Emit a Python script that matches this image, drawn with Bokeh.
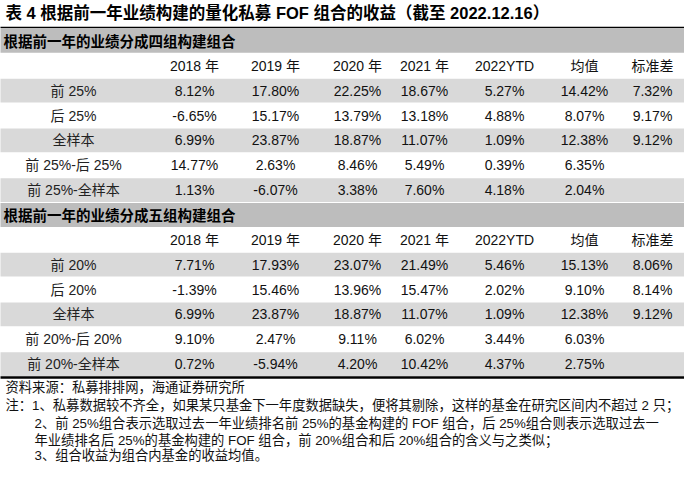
from bokeh.plotting import figure
from bokeh.models import Range1d
from bokeh.core.properties import value
from bokeh.embed import file_html
from bokeh.resources import INLINE

# ---------------- data ----------------
title = "表 4  根据前一年业绩构建的量化私募 FOF 组合的收益（截至 2022.12.16）"
section_titles = ["根据前一年的业绩分成四组构建组合", "根据前一年的业绩分成五组构建组合"]
col_headers = ["2018 年", "2019 年", "2020 年", "2021 年", "2022YTD", "均值", "标准差"]

g4_labels = ["前 25%", "后 25%", "全样本", "前 25%-后 25%", "前 25%-全样本"]
g4_top25 = [8.12, 17.80, 22.25, 18.67, 5.27, 14.42, 7.32]
g4_bot25 = [-6.65, 15.17, 13.79, 13.18, 4.88, 8.07, 9.17]
g4_all = [6.99, 23.87, 18.87, 11.07, 1.09, 12.38, 9.12]
g4_top_minus_bot = [14.77, 2.63, 8.46, 5.49, 0.39, 6.35, None]
g4_top_minus_all = [1.13, -6.07, 3.38, 7.60, 4.18, 2.04, None]

g5_labels = ["前 20%", "后 20%", "全样本", "前 20%-后 20%", "前 20%-全样本"]
g5_top20 = [7.71, 17.93, 23.07, 21.49, 5.46, 15.13, 8.06]
g5_bot20 = [-1.39, 15.46, 13.96, 15.47, 2.02, 9.10, 8.14]
g5_all = [6.99, 23.87, 18.87, 11.07, 1.09, 12.38, 9.12]
g5_top_minus_bot = [9.10, 2.47, 9.11, 6.02, 3.44, 6.03, None]
g5_top_minus_all = [0.72, -5.94, 4.20, 10.42, 4.37, 2.75, None]

notes = [
    "资料来源：私募排排网，海通证券研究所",
    "注：1、私募数据较不齐全，如果某只基金下一年度数据缺失，便将其剔除，这样的基金在研究区间内不超过 2 只；",
    "2、前 25%组合表示选取过去一年业绩排名前 25%的基金构建的 FOF 组合，后 25%组合则表示选取过去一",
    "年业绩排名后 25%的基金构建的 FOF 组合，前 20%组合和后 20%组合的含义与之类似；",
    "3、组合收益为组合内基金的收益均值。",
]

groups = [
    (g4_labels, [g4_top25, g4_bot25, g4_all, g4_top_minus_bot, g4_top_minus_all]),
    (g5_labels, [g5_top20, g5_bot20, g5_all, g5_top_minus_bot, g5_top_minus_all]),
]

# ---------------- layout ----------------
LEFT, RIGHT = 3, 692
ROW_TOP, ROW_H = 36, 24.86
LABEL_X = 81
COL_X = [202, 283, 365, 432, 512, 592, 660]

CJK = value("Noto Sans CJK SC")
MIX = value("'Liberation Sans', 'Noto Sans CJK SC'")
NUM = value("Liberation Sans")

p = figure(width=684, height=464, x_range=Range1d(8, 692), y_range=Range1d(472, 8),
           output_backend="svg", toolbar_location=None, min_border=0,
           x_axis_type=None, y_axis_type=None)
p.outline_line_color = None
p.grid.visible = False
p.background_fill_color = "white"
p.border_fill_color = "white"


def row_y(i):
    return ROW_TOP + i * ROW_H


# bands
dark_t, dark_b, light_t, light_b = [], [], [], []
for g in range(2):
    base = g * 7
    dark_t.append(row_y(base) + 0.5)
    dark_b.append(row_y(base + 1) - 0.5)
    for k in (0, 2, 4):
        r = base + 2 + k
        light_t.append(row_y(r) + 0.5)
        light_b.append(row_y(r + 1) - 0.5)
p.quad(left=LEFT, right=RIGHT, top=dark_t, bottom=dark_b, fill_color="#bdbdbd", line_color=None)
p.quad(left=LEFT, right=RIGHT, top=light_t, bottom=light_b, fill_color="#d9d9d9", line_color=None)

# rules
p.segment(x0=[LEFT], x1=[RIGHT], y0=[3.5], y1=[3.5], line_color="black", line_width=2)
p.segment(x0=[LEFT], x1=[RIGHT], y0=[35], y1=[35], line_color="black", line_width=1.5)
p.segment(x0=[LEFT], x1=[RIGHT], y0=[385], y1=[385], line_color="black", line_width=2.5)

# title
p.text(x=[13], y=[20], text=[title], text_font=MIX, text_font_size="16.5px",
       text_font_style="bold", text_baseline="middle", text_align="left", text_color="black")

for g, (labels, rows) in enumerate(groups):
    base = g * 7
    # section header
    p.text(x=[11], y=[row_y(base) + ROW_H / 2], text=[section_titles[g]], text_font=CJK,
           text_font_size="14.5px", text_font_style="bold", text_baseline="middle",
           text_align="left", text_color="black")
    # column headers
    hy = row_y(base + 1) + ROW_H / 2
    p.text(x=COL_X, y=[hy] * len(COL_X), text=col_headers, text_font=MIX,
           text_font_size="14px", text_baseline="middle", text_align="center", text_color="#111111")
    # rows
    for k, (lab, vals) in enumerate(zip(labels, rows)):
        ry = row_y(base + 2 + k) + ROW_H / 2
        p.text(x=[LABEL_X], y=[ry], text=[lab], text_font=MIX, text_font_size="14px",
               text_baseline="middle", text_align="center", text_color="#222222")
        xs = [COL_X[j] for j, v in enumerate(vals) if v is not None]
        ts = [f"{v:.2f}%" for v in vals if v is not None]
        p.text(x=xs, y=[ry] * len(xs), text=ts, text_font=NUM, text_font_size="14px",
               text_baseline="middle", text_align="center", text_color="#111111")

# notes
note_x = [13, 13, 42, 42, 42]
note_y = [395, 413, 431, 448, 463]
p.text(x=note_x, y=note_y, text=notes, text_font=MIX, text_font_size="13.3px",
       text_baseline="middle", text_align="left", text_color="#111111")

open("out.html", "w").write(file_html(p, INLINE))
